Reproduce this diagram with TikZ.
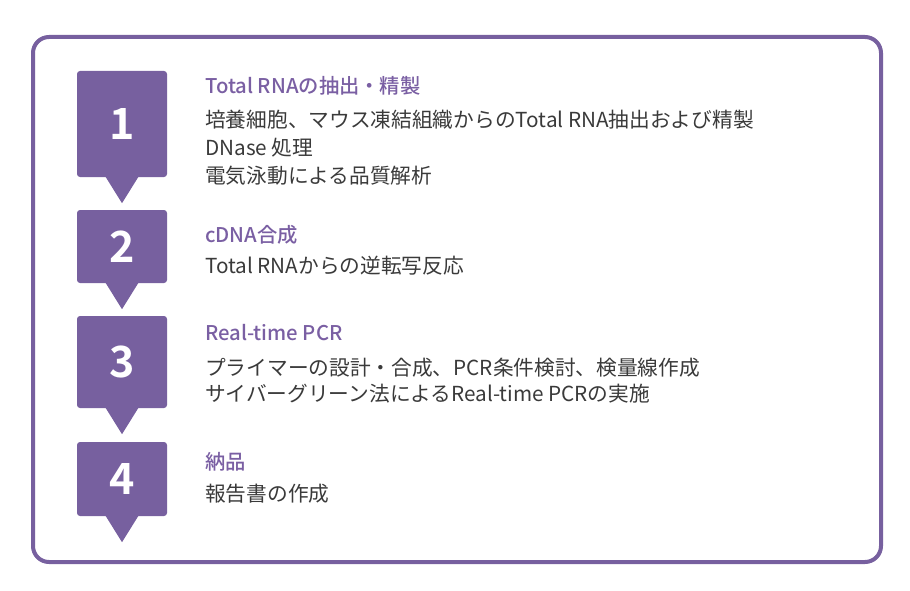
\documentclass[tikz,border=0pt]{standalone}
\usepackage{fontspec}
\setmainfont{Noto Sans CJK JP}
\newfontfamily\numfont{Noto Sans CJK JP Bold}
\newfontfamily\headfont{Noto Sans CJK JP Medium}
\definecolor{purp}{HTML}{77609F}
\definecolor{headc}{HTML}{7A5FA3}
\definecolor{bodyc}{HTML}{3A3A3A}
\tikzset{
  stepbox/.style={draw=none,fill=purp,rounded corners=3pt,minimum width=90pt,inner sep=0pt,
    text=white,font=\numfont\fontsize{43pt}{43pt}\selectfont},
  headtxt/.style={anchor=base west,inner sep=0pt,text=headc,font=\headfont\fontsize{20.3pt}{20.3pt}\selectfont},
  bodytxt/.style={anchor=base west,inner sep=0pt,text=bodyc,font=\fontsize{20.7pt}{20.7pt}\selectfont},
}
\begin{document}
\begin{tikzpicture}[x=1pt,y=-1pt]
\useasboundingbox (0,0) rectangle (910,591);
\draw[purp,line width=4pt,rounded corners=16pt] (33,37) rectangle (881,562);
% step boxes
\node[stepbox,minimum height=106pt] (s1) at (122,124) {1};
\node[stepbox,minimum height=73pt] (s2) at (122,246.5) {2};
\node[stepbox,minimum height=92pt] (s3) at (122,362) {3};
\node[stepbox,minimum height=74pt] (s4) at (122,479) {4};
\foreach \s in {s1,s2,s3,s4}{
  \fill[purp] ([xshift=-16.5pt,yshift=0.5pt]\s.south) -- ([xshift=16.5pt,yshift=0.5pt]\s.south) -- ([yshift=-26pt]\s.south) -- cycle;
}
% texts
\node[headtxt] (h1) at (205,94) {Total RNAの抽出・精製};
\node[bodytxt] (b11) at (205,128) {培養細胞、マウス凍結組織からのTotal RNA抽出および精製};
\node[bodytxt] (b12) at (205,155) {DNase 処理};
\node[bodytxt] (b13) at (205,183) {電気泳動による品質解析};
\node[headtxt] (h2) at (205,242.5) {cDNA合成};
\node[bodytxt] (b21) at (205,273) {Total RNAからの逆転写反応};
\node[headtxt] (h3) at (205,340.5) {Real-time PCR};
\node[bodytxt] (b31) at (205,375) {プライマーの設計・合成、PCR条件検討、検量線作成};
\node[bodytxt] (b32) at (205,401) {サイバーグリーン法によるReal-time PCRの実施};
\node[headtxt] (h4) at (205,469.5) {納品};
\node[bodytxt] (b41) at (205,501) {報告書の作成};
\end{tikzpicture}
\end{document}
